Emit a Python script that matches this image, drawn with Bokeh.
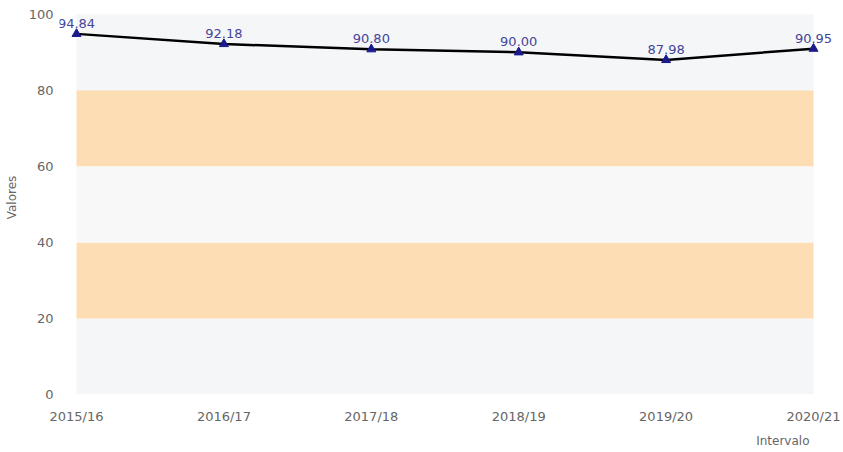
from bokeh.plotting import figure
from bokeh.models import ColumnDataSource, FixedTicker, Title
from bokeh.core.properties import value
from bokeh.embed import file_html
from bokeh.resources import INLINE

categories = ["2015/16", "2016/17", "2017/18", "2018/19", "2019/20", "2020/21"]
values = [94.84, 92.18, 90.80, 90.00, 87.98, 90.95]
band_bottoms = [0, 20, 40, 60, 80]
band_tops = [20, 40, 60, 80, 100]
band_colors = ["#f5f6f8", "#fddeb4", "#f8f8f8", "#fddeb4", "#f5f6f8"]
y_ticks = [0, 20, 40, 60, 80, 100]

FONT = "DejaVu Sans"
n = len(categories)
xs = list(range(n))
src = ColumnDataSource(dict(x=xs, y=values, label=[f"{v:.2f}" for v in values]))

# frame spans 59..843 px horizontally, 0..401 px vertically;
# data x 0..5 maps to 76..813 px, y 0..100 maps to 401..14 px
LEFT = 59
ppx = (813 - 76) / (n - 1)
ppy = (401 - 14) / 100
x_start = -(76 - LEFT) / ppx
x_end = (n - 1) + (843 - 813) / ppx
y_end = 100 + 14 / ppy

p = figure(width=843, height=452, output_backend="svg", toolbar_location=None,
           x_range=(x_start, x_end), y_range=(0, y_end),
           min_border_left=LEFT, min_border_right=0, min_border_top=0, min_border_bottom=51)
p.outline_line_color = None
p.background_fill_color = "white"
p.grid.visible = False

bsrc = ColumnDataSource(dict(bottom=band_bottoms, top=band_tops, color=band_colors))
p.quad(left=0, right=n - 1, bottom="bottom", top="top",
       fill_color="color", line_color=None, source=bsrc)

p.line("x", "y", source=src, line_color="black", line_width=2.5)
p.scatter("x", "y", source=src, marker="triangle", size=9, fill_color="#1a1a8c",
          line_color="#1a1a8c")
p.text("x", "y", text="label", source=src, text_align="center", text_baseline="bottom",
       y_offset=-6, text_font=value(FONT), text_font_size="13px", text_color="#45459a")

p.xaxis.ticker = FixedTicker(ticks=xs)
p.xaxis.major_label_overrides = {i: c for i, c in enumerate(categories)}
p.yaxis.ticker = FixedTicker(ticks=y_ticks)
for ax in (p.xaxis, p.yaxis):
    ax.axis_line_color = None
    ax.major_tick_line_color = None
    ax.minor_tick_line_color = None
    ax.major_label_text_font = FONT
    ax.major_label_text_font_size = "13px"
    ax.major_label_text_color = "#666666"
p.xaxis.major_label_standoff = 8
p.yaxis.major_label_standoff = 0
p.yaxis.axis_label = "Valores"
p.yaxis.axis_label_text_font = FONT
p.yaxis.axis_label_text_font_size = "12px"
p.yaxis.axis_label_text_font_style = "normal"
p.yaxis.axis_label_text_color = "#666666"
p.yaxis.axis_label_standoff = 7

p.add_layout(Title(text="Intervalo", align="right", text_font=FONT, text_font_size="12px",
                   text_font_style="normal", text_color="#666666", offset=34), "below")

open("out.html", "w").write(file_html(p, INLINE))
